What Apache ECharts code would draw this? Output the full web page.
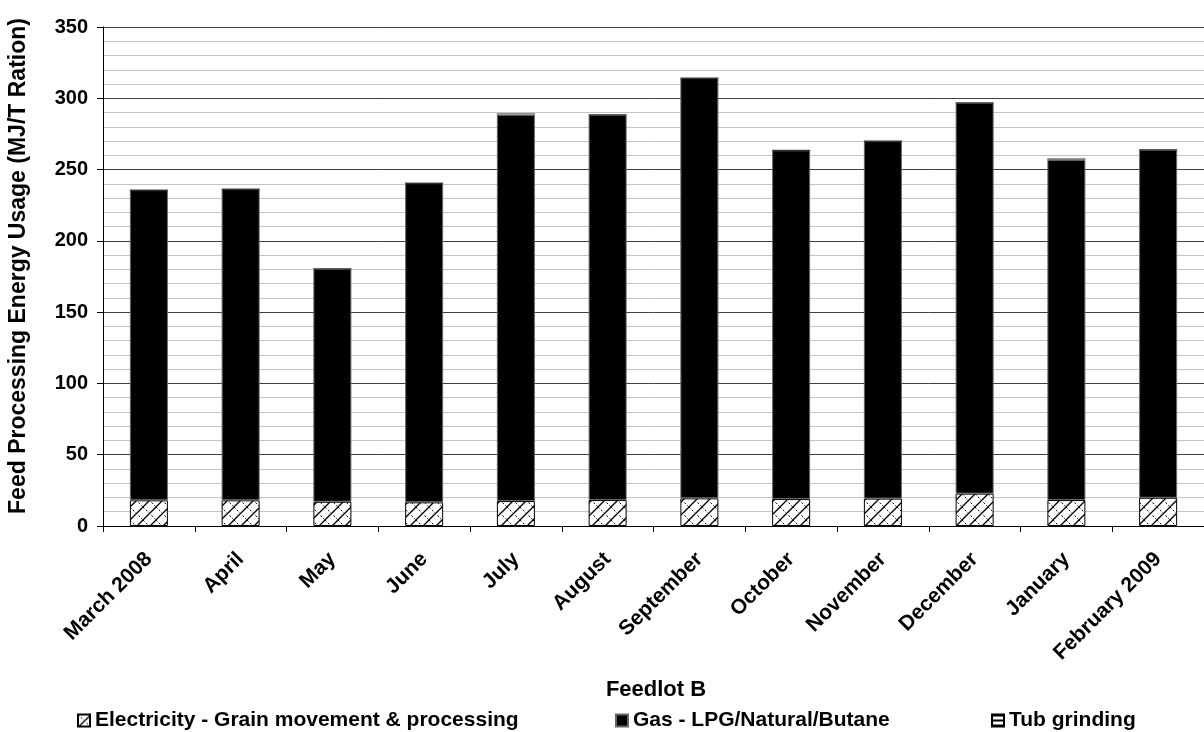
<!DOCTYPE html>
<html>
<head>
<meta charset="utf-8">
<script src="https://cdn.jsdelivr.net/npm/echarts@6/dist/echarts.min.js"></script>
<style>
  html, body { margin: 0; padding: 0; background: #fff; }
  #chart { width: 1204px; height: 732px; }
</style>
</head>
<body>
<div id="chart"></div>
<script>
// Monthly feed processing energy usage, Feedlot B (MJ/T ration)
const months = ['March 2008', 'April', 'May', 'June', 'July', 'August', 'September',
                'October', 'November', 'December', 'January', 'February 2009'];
const electricity = [18.0, 18.0, 17.0, 16.6, 17.5, 18.2, 19.4, 18.9, 19.2, 22.7, 18.2, 19.8];
const gas = [217.6, 218.3, 163.4, 223.9, 270.7, 270.2, 294.8, 244.6, 250.8, 274.1, 238.6, 244.1];
const tubGrinding = [0, 0, 0, 0, 1.2, 0, 0, 0, 0, 0, 1.0, 0];
const yTicks = [0, 50, 100, 150, 200, 250, 300, 350];

const FONT = '"Liberation Sans", Arial, sans-serif';

// Diagonal cross-hatch fill for the electricity segment
function hatchPattern() {
  const c = document.createElement('canvas');
  c.width = 13; c.height = 13;
  const g = c.getContext('2d');
  g.fillStyle = '#fff';
  g.fillRect(0, 0, 13, 13);
  g.strokeStyle = '#000';
  g.lineWidth = 1.3;
  g.beginPath();
  g.moveTo(-1, 14); g.lineTo(14, -1);
  g.stroke();
  g.lineWidth = 1;
  g.setLineDash([2, 2]);
  g.beginPath();
  g.moveTo(0, 0); g.lineTo(13, 13);
  g.stroke();
  return { image: c, repeat: 'repeat' };
}

// Horizontal stripe fill for the tub grinding segment
function stripePattern() {
  const c = document.createElement('canvas');
  c.width = 4; c.height = 5;
  const g = c.getContext('2d');
  g.fillStyle = '#fff';
  g.fillRect(0, 0, 4, 5);
  g.fillStyle = '#000';
  g.fillRect(0, 0, 4, 2);
  return { image: c, repeat: 'repeat' };
}

const chart = echarts.init(document.getElementById('chart'), null, { renderer: 'canvas' });

const legendText = { fontFamily: FONT, fontWeight: 'bold', fontSize: 21, color: '#000' };
const legendBase = {
  top: 705, itemWidth: 12, itemHeight: 12, itemGap: 3,
  textStyle: legendText, icon: 'rect', selectedMode: false
};

chart.setOption({
  animation: false,
  backgroundColor: '#fff',
  textStyle: { fontFamily: FONT },
  grid: { left: 103, right: -6, top: 27, bottom: 206, containLabel: false },
  legend: [
    Object.assign({}, legendBase, { left: 72, data: ['Electricity - Grain movement & processing'] }),
    Object.assign({}, legendBase, { left: 610, data: ['Gas - LPG/Natural/Butane'] }),
    Object.assign({}, legendBase, { left: 986, data: ['Tub grinding'] })
  ],
  graphic: [
    {
      type: 'text', x: 19, y: 266, rotation: Math.PI / 2,
      style: {
        text: 'Feed Processing Energy Usage (MJ/T Ration)',
        align: 'center', verticalAlign: 'middle',
        font: 'bold 23px ' + FONT, fill: '#000'
      }
    },
    {
      type: 'text', x: 656, y: 690,
      style: {
        text: 'Feedlot B',
        align: 'center', verticalAlign: 'middle',
        font: 'bold 22px ' + FONT, fill: '#000'
      }
    }
  ],
  xAxis: {
    type: 'category',
    data: months,
    axisLine: { lineStyle: { color: '#000', width: 1 } },
    axisTick: { show: true, alignWithLabel: false, length: 6, lineStyle: { color: '#000' } },
    axisLabel: {
      rotate: 45, interval: 0, margin: 30,
      fontFamily: FONT, fontWeight: 'bold', fontSize: 21, color: '#000'
    },
    splitLine: { show: false }
  },
  yAxis: {
    type: 'value',
    min: yTicks[0],
    max: yTicks[yTicks.length - 1],
    interval: 50,
    axisLine: { show: true, lineStyle: { color: '#000', width: 1 } },
    axisTick: { show: true, length: 6, lineStyle: { color: '#000' } },
    axisLabel: { margin: 15, fontFamily: FONT, fontWeight: 'bold', fontSize: 20, color: '#000' },
    splitLine: { show: true, lineStyle: { color: '#404040', width: 1 } },
    minorTick: { show: false, splitNumber: 5 },
    minorSplitLine: { show: true, lineStyle: { color: '#c4c4c4', width: 1 } }
  },
  series: [
    {
      name: 'Electricity - Grain movement & processing',
      type: 'bar', stack: 'energy', barWidth: 38,
      data: electricity,
      itemStyle: { color: hatchPattern(), borderColor: '#000', borderWidth: 1 }
    },
    {
      name: 'Gas - LPG/Natural/Butane',
      type: 'bar', stack: 'energy', barWidth: 38,
      data: gas,
      itemStyle: { color: '#000', borderColor: '#666', borderWidth: 1 }
    },
    {
      name: 'Tub grinding',
      type: 'bar', stack: 'energy', barWidth: 38,
      data: tubGrinding,
      itemStyle: { color: stripePattern(), borderColor: '#000', borderWidth: 0.5 }
    }
  ]
});
</script>
</body>
</html>
